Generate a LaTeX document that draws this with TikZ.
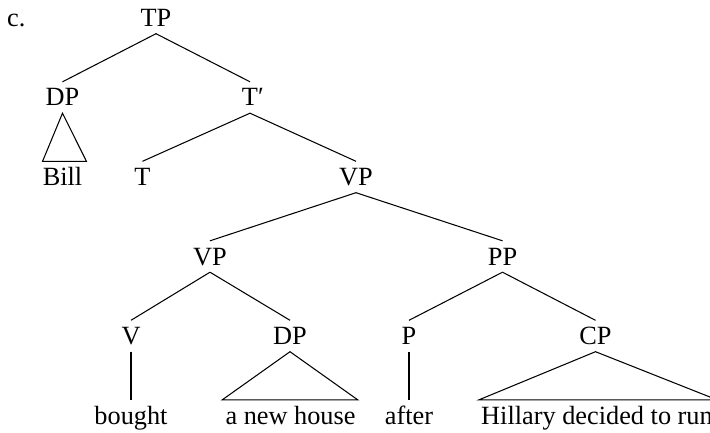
\documentclass[tikz,border=0pt]{standalone}
\usepackage{fontspec}
\setmainfont{Liberation Serif}
\begin{document}
\begin{tikzpicture}[x=1pt,y=-1pt,
  lab/.style={anchor=base, inner xsep=0pt, inner ysep=7pt,
    text height=17pt, text depth=0pt, font=\fontsize{26.3}{30}\selectfont},
  branch/.style={line width=1.05pt, line join=miter},
]
\clip (0,0) rectangle (710,433);

% example label
\node[lab, anchor=base west] (ex) at (7,27) {c.};

% level 0
\node[lab] (tp)  at (156,26.5) {TP};
% level 1
\node[lab] (dp1) at (62.5,106) {DP};
\node[lab] (tb)  at (250,106) {T\rlap{′}};
% level 2
\node[lab] (bill) at (62.5,185.5) {Bill};
\node[lab] (t)    at (142.5,185.5) {T};
\node[lab] (vp1)  at (356,185.5) {VP};
% level 3
\node[lab] (vp2) at (210,265) {VP};
\node[lab] (pp)  at (502.5,265) {PP};
% level 4
\node[lab] (v)   at (131,344.5) {V};
\node[lab] (dp2) at (290,344.5) {DP};
\node[lab] (p)   at (409,344.5) {P};
\node[lab] (cp)  at (595.5,344.5) {CP};
% leaves
\node[lab] (bought) at (131,424) {bought};
\node[lab] (house)  at (290.5,424) {a new house};
\node[lab] (after)  at (409,424) {after};
\node[lab] (hill)   at (597,424) {Hillary decided to run};

% branches
\draw[branch] (tp.south) -- (dp1.north);
\draw[branch] (tp.south) -- (tb.north);
\draw[branch] (tb.south) -- (t.north);
\draw[branch] (tb.south) -- (vp1.north);
\draw[branch] (vp1.south) -- (vp2.north);
\draw[branch] (vp1.south) -- (pp.north);
\draw[branch] (vp2.south) -- (v.north);
\draw[branch] (vp2.south) -- (dp2.north);
\draw[branch] (pp.south) -- (p.north);
\draw[branch] (pp.south) -- (cp.north);
\draw[branch] (v.south) -- (bought.north);
\draw[branch] (p.south) -- (after.north);

% triangles over unanalysed constituents
\draw[branch] (dp1.south) -- ([xshift=0pt]bill.north west)
  -- ([xshift=4pt]bill.north east) -- cycle;
\draw[branch] (dp2.south) -- ([xshift=-3pt]house.north west)
  -- ([xshift=2pt]house.north east) -- cycle;
\draw[branch] (cp.south) -- ([xshift=-2pt]hill.north west)
  -- ([xshift=4pt]hill.north east) -- cycle;
\end{tikzpicture}
\end{document}
